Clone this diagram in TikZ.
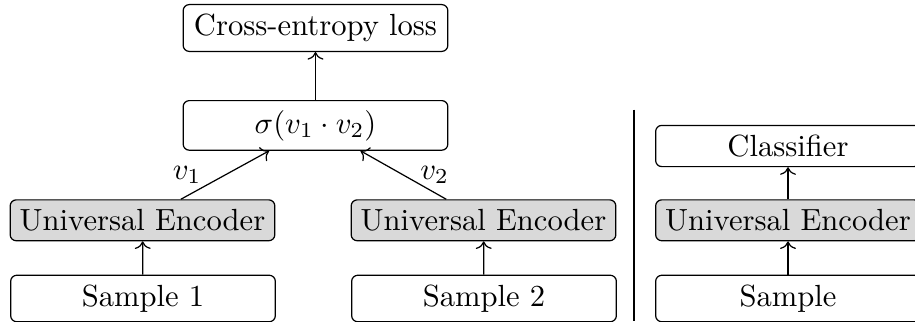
\documentclass[tikz,border=0pt]{standalone}
\usetikzlibrary{arrows.meta}
\begin{document}
\begin{tikzpicture}[x=0.3268pt, y=-0.3268pt,
  box/.style={draw, rounded corners=2pt, minimum width=86.5pt, inner sep=3.1pt},
  encbox/.style={box, fill=gray!30},
  flow/.style={->},
  lbl/.style={inner sep=3.33pt}]
  \useasboundingbox (0,0) rectangle (915,321);

  % pair-wise training branch
  \node[box]    (loss)  at (315.5,28)    {Cross-entropy loss};
  \node[box]    (sig)   at (315.5,125.4) {$\sigma(v_1\cdot v_2)$};
  \node[encbox] (enc1)  at (142.5,220.3) {Universal Encoder};
  \node[encbox] (enc2)  at (483.5,220.3) {Universal Encoder};
  \node[box]    (s1)    at (143,298.5)   {Sample 1};
  \node[box]    (s2)    at (484,298.5)   {Sample 2};

  \draw[flow] (s1) -- (enc1);
  \draw[flow] (s2) -- (enc2);
  \draw[flow] (enc1) -- node[lbl, pos=0.5, left=4.2pt] {$v_1$} (sig);
  \draw[flow] (enc2) -- node[lbl, pos=0.5, right=2pt] {$v_2$} (sig);
  \draw[flow] (sig) -- (loss);

  % separator
  \coordinate (sepTop) at (634,109.5);
  \coordinate (sepBot) at (634,321);
  \draw (sepTop) -- (sepBot);

  % classification branch
  \node[box]    (cls)  at (788,146)   {Classifier};
  \node[encbox] (enc3) at (788,220.3) {Universal Encoder};
  \node[box]    (s3)   at (788,298.5) {Sample};

  \draw[flow] (s3) -- (enc3);
  \draw[flow] (enc3) -- (cls);
\end{tikzpicture}
\end{document}
